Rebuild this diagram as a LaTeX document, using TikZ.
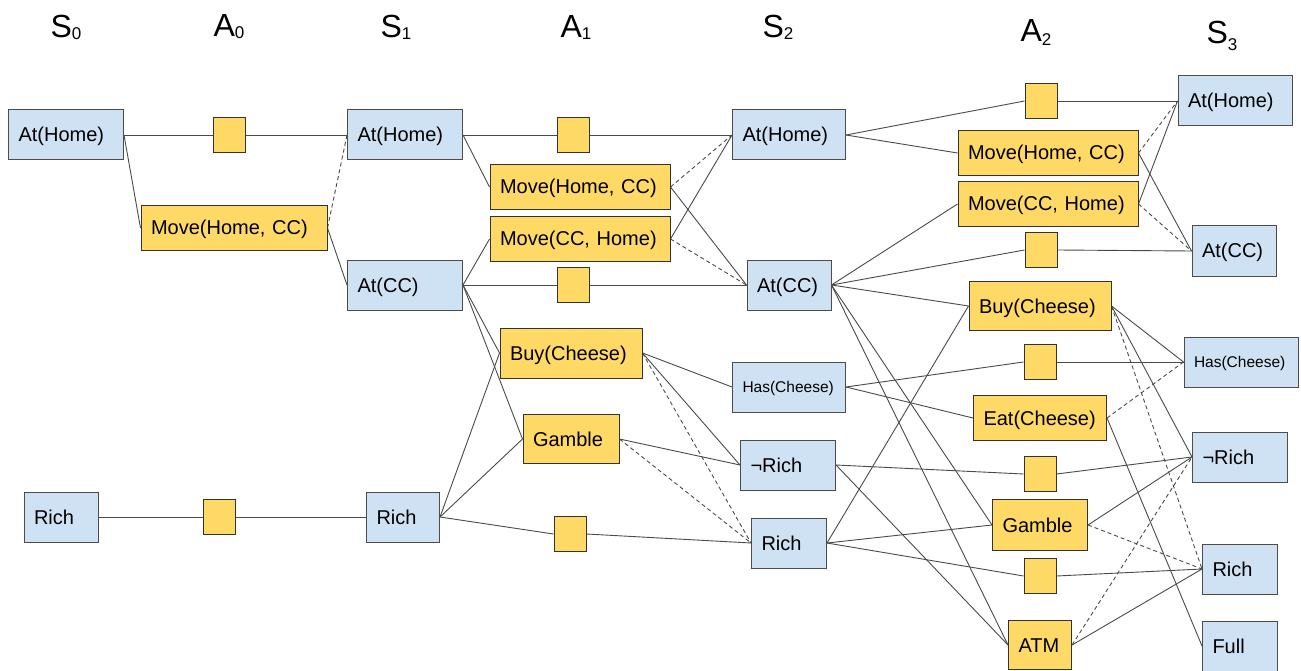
\documentclass[tikz,border=0pt]{standalone}
\usepackage{fontspec}
\setmainfont{Liberation Sans}
\usepackage{xcolor}
\usetikzlibrary{backgrounds}
\definecolor{stfill}{HTML}{CFE2F3}
\definecolor{actfill}{HTML}{FFD966}
\definecolor{linkgray}{HTML}{4A4A4A}
\newcommand{\lvl}[3][-2pt]{#2\raisebox{#1}{\fontsize{17}{17}\selectfont #3}}

\begin{document}
\begin{tikzpicture}[x=1pt, y=-1pt,
    every node/.style={font=\fontsize{20}{22}\selectfont, text height=16pt, text depth=2pt},
    hdr/.style={font=\fontsize{32}{36}\selectfont, text height=, text depth=},
    st/.style={draw=black!70, line width=1pt, fill=stfill, text width=#1, inner xsep=10pt, align=left, minimum height=50pt},
    act/.style={draw=black!80, line width=1pt, fill=actfill, text width=#1, inner xsep=10pt, align=left, minimum height=45pt},
    noop/.style={draw=black!80, line width=1pt, fill=actfill, minimum width=32pt, minimum height=35pt, inner sep=0pt, text height=, text depth=},
    small/.style={font=\fontsize{15.5}{18}\selectfont, text height=13pt, text depth=2pt},
    link/.style={draw=linkgray, line width=0.9pt},
    mutex/.style={draw=linkgray, line width=0.9pt, dash pattern=on 4pt off 3pt}]
\useasboundingbox (0,0) rectangle (1301,671);

% level headers
\node[hdr] (hS0) at (66,27) {\lvl{S}{0}};
\node[hdr] (hA0) at (229,27) {\lvl{A}{0}};
\node[hdr] (hS1) at (396,27) {\lvl{S}{1}};
\node[hdr] (hA1) at (576,27) {\lvl{A}{1}};
\node[hdr] (hS2) at (778,27) {\lvl{S}{2}};
\node[hdr] (hA2) at (1036,32) {\lvl[-4pt]{A}{2}};
\node[hdr] (hS3) at (1222,36) {\lvl[-7pt]{S}{3}};

% S0
\node[st=95pt] (s0home) at (66,135) {At(Home)};
\node[st=54pt] (s0rich) at (61,517) {Rich};

% A0
\node[noop] (a0nhome) at (229,135) {};
\node[act=166pt, minimum height=44pt] (a0move) at (234,228) {Move(Home, CC)};
\node[noop] (a0nrich) at (219,517) {};

% S1
\node[st=95pt] (s1home) at (405,135) {At(Home)};
\node[st=95pt] (s1cc) at (405,285) {At(CC)};
\node[st=53pt] (s1rich) at (403,517) {Rich};

% A1
\node[noop] (a1nhome) at (573,135) {};
\node[act=160pt] (a1movehc) at (580,187) {Move(Home, CC)};
\node[act=160pt, minimum height=44pt] (a1movech) at (580,239) {Move(CC, Home)};
\node[noop] (a1ncc) at (573,285) {};
\node[act=122pt, minimum height=50pt] (a1buy) at (571,353) {Buy(Cheese)};
\node[act=76pt, minimum height=49pt] (a1gamble) at (571,439) {Gamble};
\node[noop] (a1nrich) at (570,534) {};

% S2
\node[st=93pt] (s2home) at (789,135) {At(Home)};
\node[st=64pt] (s2cc) at (789,285) {At(CC)};
\node[st=93pt, small] (s2has) at (789,387) {Has(Cheese)};
\node[st=75pt] (s2nrich) at (788,465) {¬Rich};
\node[st=55pt] (s2rich) at (789,543) {Rich};

% A2
\node[noop] (a2nhome) at (1041,101) {};
\node[act=160pt] (a2movehc) at (1048,153) {Move(Home, CC)};
\node[act=160pt] (a2movech) at (1048,204) {Move(CC, Home)};
\node[noop] (a2ncc) at (1041,250) {};
\node[act=122pt, minimum height=49pt] (a2buy) at (1040,306) {Buy(Cheese)};
\node[noop] (a2nhas) at (1040,362) {};
\node[act=113pt] (a2eat) at (1040,418) {Eat(Cheese)};
\node[noop] (a2nnrich) at (1040,474) {};
\node[act=75pt, minimum height=51pt] (a2gamble) at (1040,525) {Gamble};
\node[noop] (a2nrich) at (1040,576) {};
\node[act=43pt, minimum height=49pt] (a2atm) at (1040,645) {ATM};

% S3
\node[st=94pt] (s3home) at (1235,101) {At(Home)};
\node[st=64pt] (s3cc) at (1234,251) {At(CC)};
\node[st=94pt, small] (s3has) at (1241,362) {Has(Cheese)};
\node[st=75pt] (s3nrich) at (1240,457) {¬Rich};
\node[st=55pt] (s3rich) at (1240,569) {Rich};
\node[st=55pt] (s3full) at (1240,646) {Full};

\begin{scope}[on background layer]
% preconditions and effects
\foreach \a/\b in {s0home/a0nhome, s0home/a0move, s0rich/a0nrich,
    a0nhome/s1home, a0move/s1cc, a0nrich/s1rich,
    s1home/a1nhome, s1home/a1movehc, s1cc/a1movech, s1cc/a1ncc, s1cc/a1buy, s1cc/a1gamble,
    s1rich/a1buy, s1rich/a1gamble, s1rich/a1nrich,
    a1nhome/s2home, a1movehc/s2cc, a1movech/s2home, a1ncc/s2cc, a1buy/s2has, a1buy/s2nrich,
    a1gamble/s2nrich, a1nrich/s2rich,
    s2home/a2nhome, s2home/a2movehc, s2cc/a2movech, s2cc/a2ncc, s2cc/a2buy, s2cc/a2gamble, s2cc/a2atm,
    s2has/a2nhas, s2has/a2eat, s2nrich/a2nnrich, s2nrich/a2atm,
    s2rich/a2buy, s2rich/a2gamble, s2rich/a2nrich,
    a2nhome/s3home, a2movehc/s3cc, a2movech/s3home, a2ncc/s3cc, a2buy/s3has, a2buy/s3nrich,
    a2nhas/s3has, a2eat/s3full, a2nnrich/s3nrich, a2gamble/s3nrich, a2nrich/s3rich, a2atm/s3rich}
    \draw[link] (\a.east) -- (\b.west);
% negative effects
\foreach \a/\b in {a0move/s1home, a1movehc/s2home, a1movech/s2cc, a1buy/s2rich, a1gamble/s2rich,
    a2movehc/s3home, a2movech/s3cc, a2buy/s3rich, a2eat/s3has, a2gamble/s3rich, a2atm/s3nrich}
    \draw[mutex] (\a.east) -- (\b.west);
\end{scope}
\end{tikzpicture}
\end{document}
